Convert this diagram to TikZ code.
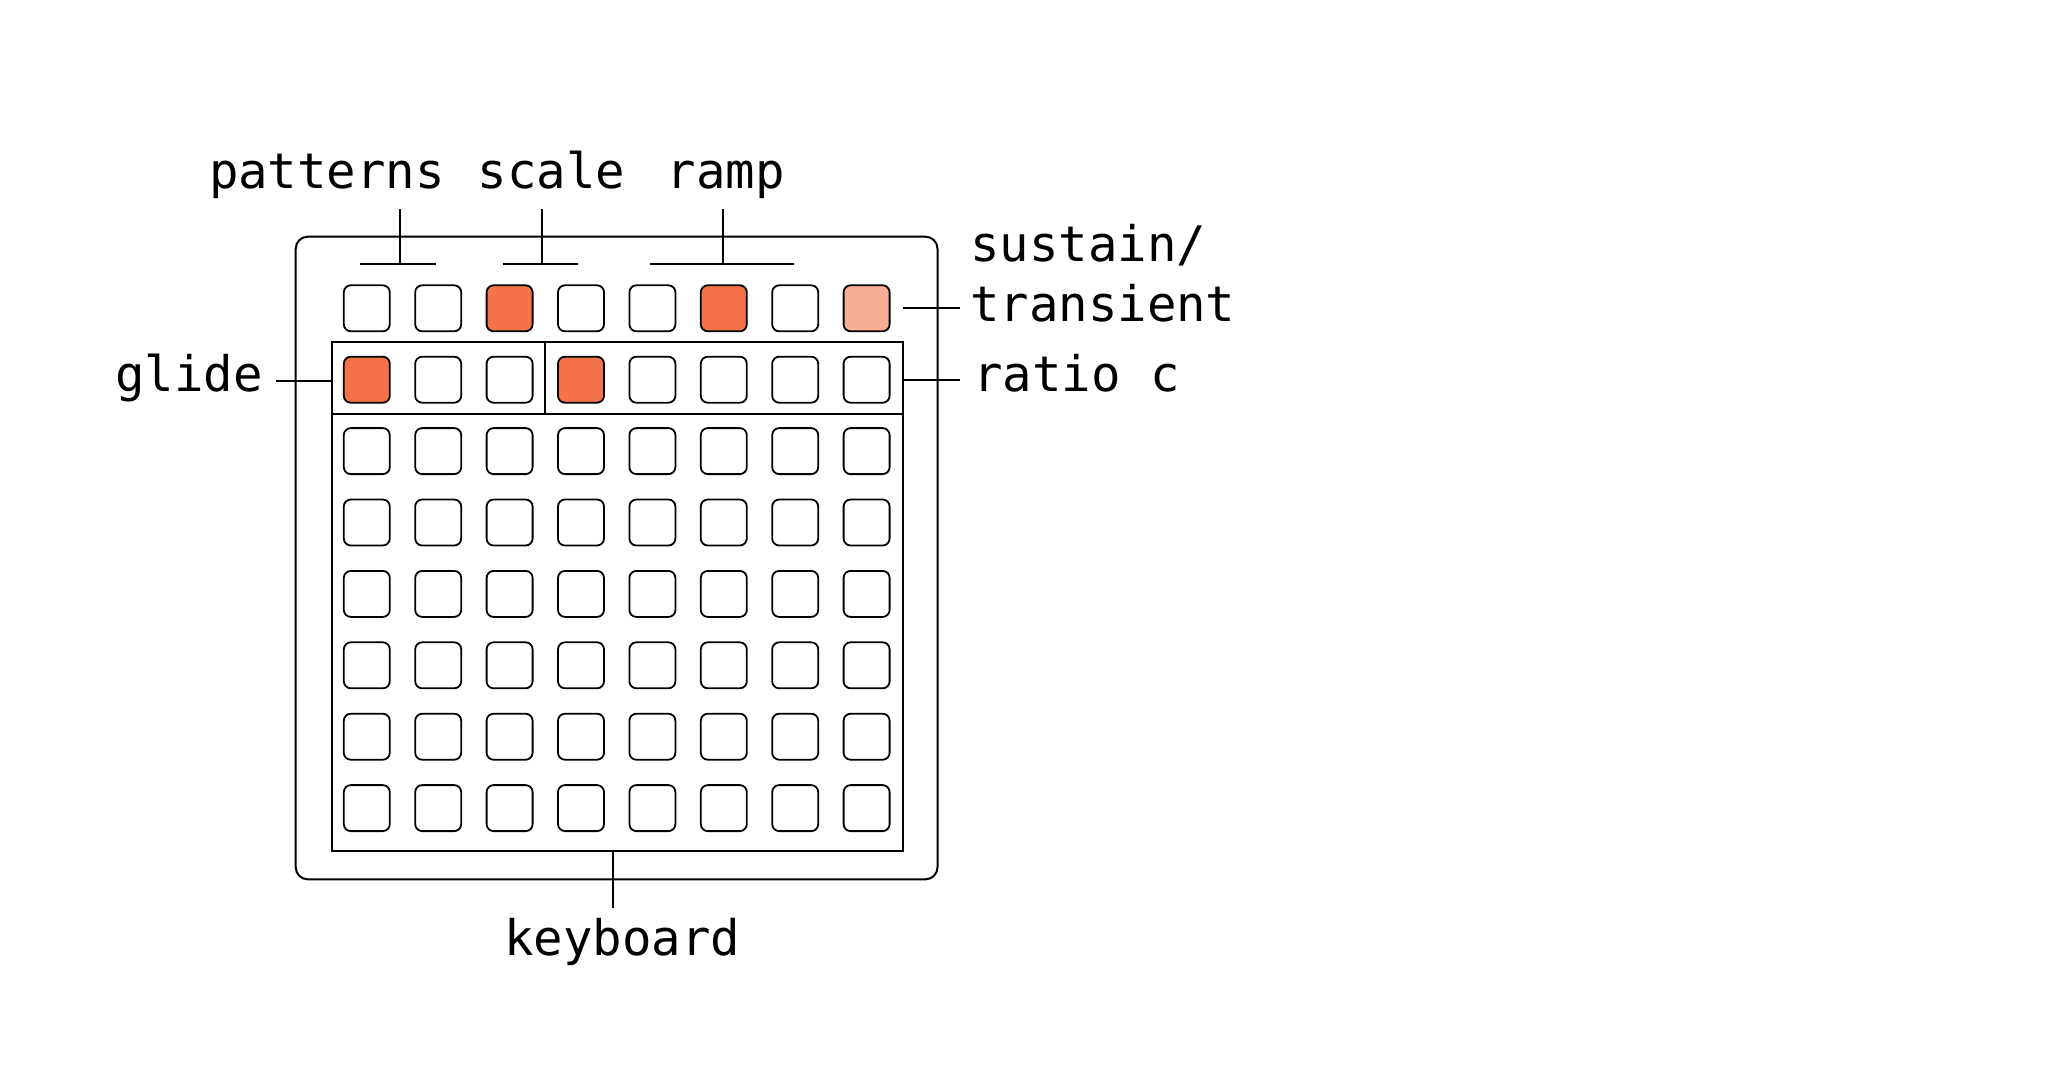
\documentclass[tikz,border=0pt]{standalone}
\usepackage{fontspec}
\setmonofont{DejaVu Sans Mono}
\definecolor{padon}{RGB}{244,115,75}
\definecolor{padlight}{RGB}{249,174,150}
\begin{document}
\begin{tikzpicture}[x=1pt,y=-1pt,line width=2pt,
  pad/.style={draw,rounded corners=7pt,minimum size=46pt,inner sep=0pt,line width=1.8pt},
  padon/.style={fill=padon},
  padlt/.style={fill=padlight},
  s20/.style={padon},s50/.style={padon},s01/.style={padon},s31/.style={padon},s70/.style={padlt},
  lbl/.style={font=\ttfamily\fontsize{49}{60}\selectfont,inner sep=0pt,anchor=base},
  lblw/.style={lbl,anchor=base west,align=left},
  leader/.style={line width=1.8pt}]
\useasboundingbox (0,0) rectangle (2047,1080);
% outer case
\draw[rounded corners=12pt] (295.7,236.7) coordinate (caseNW) rectangle (937.5,879.3) coordinate (caseSE);
% pads
\foreach \j in {0,...,7}{
  \foreach \i in {0,...,7}{
    \node[pad,s\i\j/.try] (p\i\j) at ({366.8+71.4*\i},{308.3+71.4*\j}) {};
  }
}
% inner boxes
\coordinate (inNW) at (331.7,342.3);
\coordinate (inSE) at (903.3,851);
\draw (inNW) rectangle (inSE);
\coordinate (rowL) at (331.7,414);
\coordinate (rowR) at (903.3,414);
\draw (rowL) -- (rowR);
\coordinate (divT) at (545.3,342.3);
\coordinate (divB) at (545.3,414);
\draw (divT) -- (divB);
% labels
\node[lbl] (lpat) at (327,188) {patterns};
\node[lbl] (lsca) at (551.5,188) {scale};
\node[lbl] (lram) at (725.8,188) {ramp};
\node[lbl] (lgli) at (189.2,391.7) {glide};
\node[lbl] (lkey) at (622.2,955) {keyboard};
\node[lblw] (lsus) at (969,321.7) {sustain/\\transient};
\node[lblw] (lrat) at (972,391.7) {ratio c};
% leader coordinates
\coordinate (patT) at (400,209);   \coordinate (patB) at (400,264.3);
\coordinate (patL) at (360,264.3); \coordinate (patR) at (435.7,264.3);
\coordinate (scaT) at (542,209);   \coordinate (scaB) at (542,264.3);
\coordinate (scaL) at (502.7,264.3); \coordinate (scaR) at (577.7,264.3);
\coordinate (ramT) at (723,209);   \coordinate (ramB) at (723,264.3);
\coordinate (ramL) at (650,264.3); \coordinate (ramR) at (794,264.3);
\coordinate (susA) at (903.3,308.3); \coordinate (susB) at (960,308.3);
\coordinate (ratA) at (903.3,380);   \coordinate (ratB) at (960,380);
\coordinate (gliA) at (276,380.7);   \coordinate (gliB) at (331.7,380.7);
\coordinate (keyA) at (613.3,851);   \coordinate (keyB) at (613.3,908.3);
% leaders
\draw[leader] (patT) -- (patB); \draw[leader] (patL) -- (patR);
\draw[leader] (scaT) -- (scaB); \draw[leader] (scaL) -- (scaR);
\draw[leader] (ramT) -- (ramB); \draw[leader] (ramL) -- (ramR);
\draw[leader] (susA) -- (susB);
\draw[leader] (ratA) -- (ratB);
\draw[leader] (gliA) -- (gliB);
\draw[leader] (keyA) -- (keyB);
\end{tikzpicture}
\end{document}
